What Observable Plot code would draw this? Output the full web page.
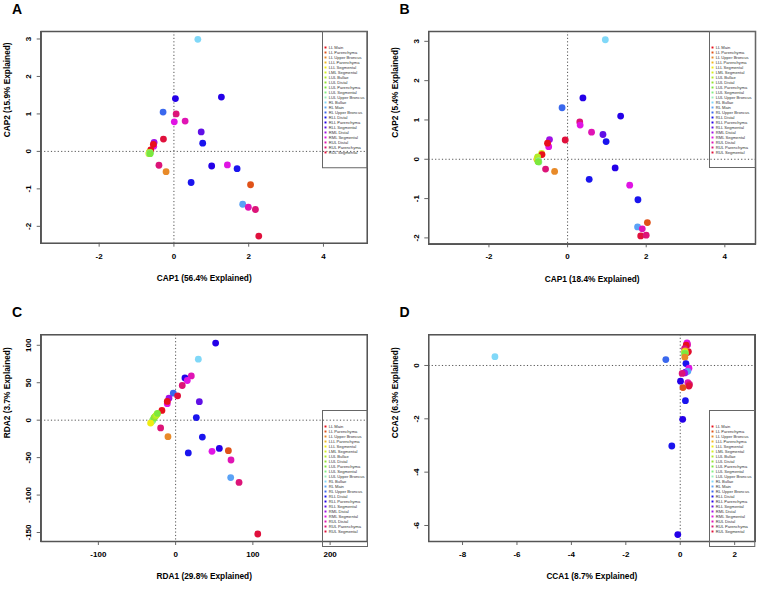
<!DOCTYPE html>
<html><head><meta charset="utf-8">
<script src="https://cdn.jsdelivr.net/npm/d3@7"></script>
<script src="https://cdn.jsdelivr.net/npm/@observablehq/plot@0.6"></script>
<style>
body{margin:0;background:#fff;font-family:"Liberation Sans",Arial,sans-serif;}
#root{position:relative;width:758px;height:590px;overflow:hidden;background:#fff;}
.panel{position:absolute;width:379px;height:295px;}
.layer{position:absolute;left:0;top:0;overflow:visible;}
.box{position:absolute;border:1.5px solid #555;box-sizing:border-box;pointer-events:none;}
.letter{position:absolute;font-weight:bold;font-size:14px;line-height:14px;color:#000;}
</style>
</head><body><div id="root"></div>
<script>
const categories = ["LL Main","LL Parenchyma","LL Upper Broncus","LLL Parenchyma","LLL Segmental","LML Segmental","LUL Bullae","LUL Distal","LUL Parenchyma","LUL Segmental","LUL Upper Broncus","RL Bullae","RL Main","RL Upper Broncus","RLL Distal","RLL Parenchyma","RLL Segmental","RML Distal","RML Segmental","RUL Distal","RUL Parenchyma","RUL Segmental"];
const colors = ["#e8101c","#e05218","#e88a28","#f0b820","#f0ec10","#d4f020","#b0ec28","#94e430","#7ce83c","#84f080","#98f0b8","#80d8f8","#5aa2f6","#3a68ee","#1a14ee","#2400e8","#6010e6","#a010e6","#e014e4","#e014b4","#dc1478","#e0103c"];
const capA = [
 ["RL Bullae",0.64,2.99],["RLL Parenchyma",0.04,1.41],["RLL Parenchyma",1.27,1.45],
 ["RL Upper Broncus",-0.29,1.05],["RUL Parenchyma",0.06,1.00],["RML Segmental",0.01,0.79],
 ["RUL Distal",0.30,0.81],["RLL Segmental",0.73,0.52],["RLL Distal",0.77,0.22],
 ["RUL Segmental",-0.28,0.33],["RML Distal",-0.53,0.24],["RML Segmental",-0.54,0.14],
 ["LL Main",-0.55,0.19],["LL Main",-0.62,0.04],
 ["LLL Parenchyma",-0.66,-0.03],["LLL Segmental",-0.67,-0.06],["LML Segmental",-0.66,-0.04],
 ["LUL Bullae",-0.65,-0.05],["LUL Distal",-0.64,-0.03],["LUL Upper Broncus",-0.65,-0.06],
 ["LUL Segmental",-0.63,-0.05],["LUL Parenchyma",-0.64,-0.06],
 ["RUL Parenchyma",-0.40,-0.37],["LL Upper Broncus",-0.21,-0.54],["RLL Distal",0.46,-0.83],
 ["RLL Parenchyma",1.01,-0.39],["RML Segmental",1.43,-0.36],["RLL Distal",1.69,-0.46],
 ["LL Parenchyma",2.05,-0.89],["RL Main",1.84,-1.41],["RUL Distal",1.99,-1.49],
 ["RUL Parenchyma",2.18,-1.55],["RUL Segmental",2.27,-2.26]
];
const capB = [
 ["RL Bullae",0.96,3.04],["RLL Parenchyma",0.39,1.56],["RLL Parenchyma",1.35,1.10],
 ["RL Upper Broncus",-0.14,1.31],["RUL Parenchyma",0.31,0.95],["RML Segmental",0.32,0.87],
 ["RUL Distal",0.61,0.69],["RLL Segmental",0.90,0.63],["RLL Distal",0.98,0.45],
 ["RUL Segmental",-0.06,0.49],["RML Distal",-0.46,0.50],["RML Segmental",-0.48,0.32],
 ["LML Segmental",-0.66,0.15],["LL Main",-0.51,0.41],["LL Main",-0.65,0.12],
 ["LLL Parenchyma",-0.78,0.00],["LLL Segmental",-0.77,0.02],["LUL Bullae",-0.76,0.06],
 ["LUL Distal",-0.75,-0.05],["LUL Upper Broncus",-0.74,-0.04],["LUL Segmental",-0.73,-0.07],
 ["LUL Parenchyma",-0.75,-0.06],
 ["RUL Parenchyma",-0.56,-0.25],["LL Upper Broncus",-0.33,-0.31],["RLL Distal",0.55,-0.51],
 ["RLL Parenchyma",1.21,-0.22],["RML Segmental",1.58,-0.66],["RLL Distal",1.79,-1.03],
 ["LL Parenchyma",2.03,-1.61],["RL Main",1.78,-1.72],["RUL Distal",1.90,-1.77],
 ["RUL Segmental",1.86,-1.95],["RUL Parenchyma",2.00,-1.93]
];
const rdaC = [
 ["RLL Parenchyma",51.8,103],["RL Bullae",29.4,81.4],["RLL Parenchyma",12.1,56.3],
 ["RUL Distal",20.3,59.1],["RML Segmental",15.1,53],["RUL Parenchyma",8.6,46.3],
 ["RL Upper Broncus",-3,36],["RUL Segmental",2.6,32.5],["RML Distal",-8.6,29.4],
 ["RML Segmental",-10.8,22],["LL Main",-10.8,25.1],["LL Main",-17.7,13],
 ["LLL Parenchyma",-30.5,-1.5],["LUL Upper Broncus",-30,-1],["LUL Segmental",-29,1],
 ["LUL Parenchyma",-28,3],["LUL Distal",-27,4.5],["LUL Bullae",-25.5,6],
 ["LML Segmental",-24,8],["LUL Parenchyma",-23.5,9],["LLL Segmental",-32.4,-3.9],
 ["RLL Segmental",30.7,24.7],["RLL Distal",26.8,3.5],["RUL Parenchyma",-19.4,-10.4],
 ["LL Upper Broncus",-9.9,-22],["RLL Distal",34.6,-22.5],["RLL Distal",16.4,-43.7],
 ["RLL Parenchyma",56.6,-37.7],["RML Segmental",47.1,-41.6],["LL Parenchyma",68.3,-40.7],
 ["RUL Distal",71.7,-53.2],["RL Main",71.3,-76.6],["RUL Parenchyma",82.1,-83.1],
 ["RUL Segmental",106.3,-152]
];
const ccaD = [
 ["RL Bullae",-6.81,0.33],["RL Upper Broncus",-0.53,0.22],
 ["RML Segmental",0.25,0.85],["RUL Distal",0.27,0.78],["RML Segmental",0.23,0.79],
 ["LL Main",0.22,0.76],["RUL Parenchyma",0.16,0.63],["RUL Segmental",0.30,0.52],
 ["LL Main",0.26,0.49],
 ["LLL Parenchyma",0.18,0.55],["LLL Segmental",0.16,0.50],["LML Segmental",0.18,0.48],
 ["LUL Bullae",0.15,0.44],["LUL Distal",0.17,0.46],["LUL Upper Broncus",0.16,0.42],
 ["LUL Segmental",0.18,0.45],["LUL Parenchyma",0.17,0.44],
 ["LL Upper Broncus",0.17,0.31],["RLL Distal",0.21,0.07],["RML Segmental",0.32,-0.10],
 ["RLL Segmental",0.20,-0.25],["RL Main",0.28,-0.22],["RML Distal",0.16,-0.28],
 ["RUL Parenchyma",0.07,-0.30],["RLL Parenchyma",0.01,-0.59],["RUL Distal",0.28,-0.64],
 ["RUL Parenchyma",0.34,-0.71],["RUL Segmental",0.32,-0.77],["LL Parenchyma",0.10,-0.83],
 ["RLL Distal",0.19,-1.32],["RLL Parenchyma",0.09,-2.02],["RLL Distal",-0.31,-3.02],
 ["RLL Parenchyma",-0.09,-6.34]
];
const ticksA = {x:[-2,0,2,4], y:[-2,-1,0,1,2,3]};
const ticksB = {x:[-2,0,2,4], y:[-2,-1,0,1,2,3]};
const ticksC = {x:[-100,0,100,200], y:[-150,-100,-50,0,50,100]};
const ticksD = {x:[-8,-6,-4,-2,0,2], y:[-6,-4,-2,0]};
const axisTitles = {
 A:["CAP1 (56.4% Explained)","CAP2 (15.9% Explained)"],
 B:["CAP1 (18.4% Explained)","CAP2 (5.4% Explained)"],
 C:["RDA1 (29.8% Explained)","RDA2 (3.7% Explained)"],
 D:["CCA1 (8.7% Explained)","CCA2 (6.3% Explained)"]
};

const root = document.getElementById("root");
const colorScale = {domain: categories, range: colors};
const font = "'Liberation Sans', Arial, sans-serif";
const fmt = d => String(d);

function place(el, x, y, parent){
  el.classList.add("layer");
  el.style.left = x + "px"; el.style.top = y + "px";
  parent.appendChild(el);
}

function makePanel(cfg){
  const div = document.createElement("div");
  div.className = "panel";
  div.style.left = cfg.left + "px"; div.style.top = cfg.top + "px";
  const [xt, yt] = axisTitles[cfg.letter];
  const [mt, mr, mb, ml] = cfg.m;
  const chart = Plot.plot({
    width: 379, height: 295,
    marginTop: mt, marginRight: mr, marginBottom: mb, marginLeft: ml,
    x: {domain: cfg.xd}, y: {domain: cfg.yd},
    style: {fontFamily: font, background: "transparent", color: "#000", fontWeight: "bold"},
    color: colorScale,
    marks: [
      Plot.ruleX([0], {stroke: "#555", strokeDasharray: "1.2,2.2", strokeWidth: 1}),
      Plot.ruleY([0], {stroke: "#555", strokeDasharray: "1.2,2.2", strokeWidth: 1}),
      Plot.dot(cfg.data, {x: d => d[1], y: d => d[2], fill: d => d[0], r: 3.4}),
      Plot.frame({stroke: "#555", strokeWidth: 1.5}),
      Plot.axisX({ticks: cfg.ticks.x, tickFormat: fmt, tickSize: 4, tickPadding: 6, fontSize: 8, stroke: "#666", fill: "#000", label: null}),
      Plot.axisY({ticks: cfg.ticks.y, tickFormat: fmt, tickSize: 4, tickPadding: 6, tickRotate: -90, fontSize: 8, stroke: "#666", fill: "#000", label: null}),
      Plot.text([xt], {text: d => d, frameAnchor: "bottom", dy: 35.2, lineAnchor: "middle", fontSize: 8.3, fontWeight: "bold", fill: "#000"}),
      Plot.text([yt], {text: d => d, frameAnchor: "left", dx: -33.7, rotate: -90, lineAnchor: "middle", fontSize: 8.3, fontWeight: "bold", fill: "#000"})
    ]
  });
  place(chart, 0, 0, div);

  // plot box outline, placed on the plot area given by the margins
  const box = document.createElement("div");
  box.className = "box";
  box.style.left = (ml - 0.25) + "px"; box.style.top = (mt - 0.25) + "px";
  box.style.width = (379 - ml - mr + 1.5) + "px"; box.style.height = (295 - mt - mb + 1.5) + "px";
  div.appendChild(box);

  const lg = Plot.plot({
    width: cfg.lg[2], height: cfg.lg[3], margin: 0,
    style: {fontFamily: font, background: "transparent", overflow: "visible"},
    y: {type: "point", domain: categories, range: [cfg.lg[4], cfg.lg[5]], axis: null},
    color: colorScale,
    marks: [
      Plot.frame({stroke: "#666", strokeWidth: 1}),
      Plot.dot(categories, {y: d => d, fill: d => d, frameAnchor: "left", dx: 3, symbol: "square", r: 1.1}),
      Plot.text(categories, {y: d => d, text: d => d, frameAnchor: "left", dx: 6.3, textAnchor: "start", fontSize: 4.1, fill: "#333"})
    ]
  });
  place(lg, cfg.lg[0], cfg.lg[1], div);

  const L = document.createElement("div");
  L.className = "letter"; L.textContent = cfg.letter;
  L.style.left = cfg.letterPos[0] + "px"; L.style.top = cfg.letterPos[1] + "px";
  div.appendChild(L);
  root.appendChild(div);
}

makePanel({letter:"A", left:0, top:0, data:capA, m:[31,12.3,52.3,40.7], xd:[-3.55,5.17], yd:[-2.45,3.2], ticks:ticksA, lg:[322,31,44.7,136.3,6,130], letterPos:[12,2]});
makePanel({letter:"B", left:379, top:0, data:capB, m:[31,3,51.7,49.3], xd:[-3.53,4.78], yd:[-2.15,3.25], ticks:ticksB, lg:[330,31,46,136,6,130], letterPos:[20.5,2]});
makePanel({letter:"C", left:0, top:295, data:rdaC, m:[39.3,12.3,49,40.7], xd:[-174,248], yd:[-162,114], ticks:ticksC, lg:[321.7,115,45,136,6.7,131], letterPos:[12,10.2]});
makePanel({letter:"D", left:379, top:295, data:ccaD, m:[39.3,3.7,49,49.3], xd:[-9.24,2.74], yd:[-6.6,1.15], ticks:ticksD, lg:[330,115,45.3,136,6.7,131], letterPos:[20.5,10.2]});
</script>
</body></html>
